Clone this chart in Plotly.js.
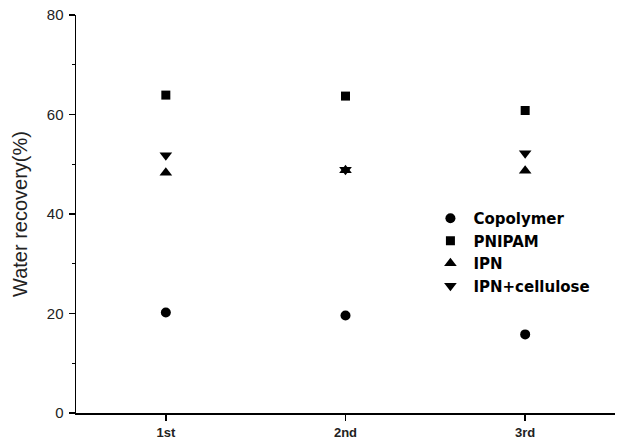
<!DOCTYPE html>
<html>
<head>
<meta charset="utf-8">
<script src="https://cdn.plot.ly/plotly-3.0.1.min.js"></script>
<style>html,body{margin:0;padding:0;background:#fff;}#chart{width:621px;height:442px;}</style>
</head>
<body>
<div id="chart"></div>
<script>
const cycles = [1, 2, 3];
const cycleLabels = ["1st", "2nd", "3rd"];
const copolymer = [20.2, 19.6, 15.8];
const pnipam = [63.9, 63.7, 60.8];
const ipn = [48.3, 48.8, 48.7];
const ipnCellulose = [51.8, 48.9, 52.2];

const seriesNames = ["Copolymer", "PNIPAM", "IPN", "IPN+cellulose"];
const seriesValues = [copolymer, pnipam, ipn, ipnCellulose];
const symbols = ["circle", "square", "triangle-up", "triangle-down"];
const sizes = [10, 9, 11, 11];

const traces = seriesNames.map((name, i) => ({
  type: "scatter",
  mode: "markers",
  name: name,
  x: cycles,
  y: seriesValues[i],
  marker: {symbol: symbols[i], size: sizes[i], color: "#000"}
}));

const layout = {
  width: 621, height: 442,
  margin: {l: 76, r: 6, t: 15, b: 29},
  paper_bgcolor: "#fff", plot_bgcolor: "#fff",
  showlegend: true,
  legend: {
    x: 0.652, y: 0.53, xanchor: "left", yanchor: "top",
    bgcolor: "rgba(0,0,0,0)",
    font: {family: "DejaVu Sans", size: 15, color: "#000", weight: "bold"},
    itemwidth: 36, tracegroupgap: 0
  },
  xaxis: {
    range: [0.5, 3.5],
    tickmode: "array", tickvals: cycles, ticktext: cycleLabels,
    showline: true, linecolor: "#000", linewidth: 1.5,
    ticks: "outside", ticklen: 6, tickwidth: 1.5, tickcolor: "#000",
    ticklabelstandoff: 1,
    showgrid: false, zeroline: false,
    tickfont: {family: "Arial", size: 13, color: "#222", weight: "bold"}
  },
  yaxis: {
    range: [0, 80],
    dtick: 20, tick0: 0,
    showline: true, linecolor: "#000", linewidth: 1.5,
    ticks: "outside", ticklen: 6, tickwidth: 1.5, tickcolor: "#000",
    ticklabelstandoff: 2,
    minor: {dtick: 10, ticks: "outside", ticklen: 3, tickwidth: 1, tickcolor: "#000", showgrid: false},
    showgrid: false, zeroline: false,
    tickfont: {family: "Arial", size: 15, color: "#222"},
    title: {text: "Water recovery(%)", font: {family: "Arial", size: 20, color: "#222"}, standoff: 14}
  }
};

Plotly.newPlot("chart", traces, layout, {displayModeBar: false, staticPlot: true});
</script>
</body>
</html>
